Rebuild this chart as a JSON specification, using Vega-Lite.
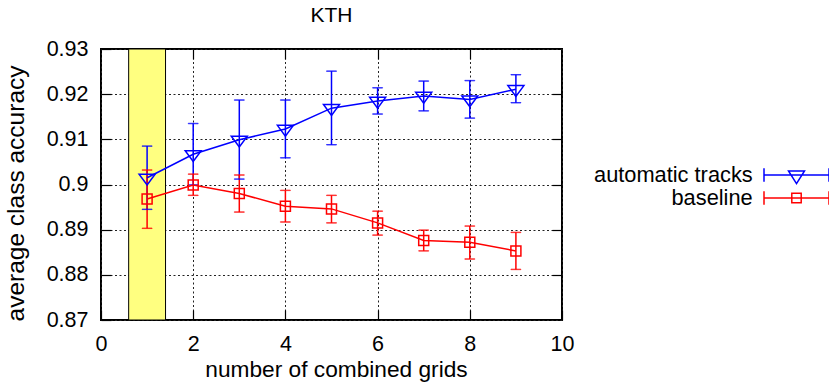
{
  "$schema": "https://vega.github.io/schema/vega-lite/v6.json",
  "width": 461,
  "height": 271,
  "autosize": "none",
  "padding": {"left": 101, "top": 49, "right": 267, "bottom": 63},
  "title": {"text": "KTH", "fontSize": 21, "font": "Liberation Sans", "fontWeight": "normal", "color": "black", "offset": 12},
  "config": {
    "font": "Liberation Sans",
    "view": {"stroke": "black", "strokeWidth": 2},
    "axis": {
      "labelFont": "Liberation Sans", "labelFontSize": 21.5, "labelColor": "black", "labelFlush": false,
      "titleFont": "Liberation Sans", "titleFontSize": 22.7, "titleFontWeight": "normal", "titleColor": "black",
      "tickColor": "black", "tickSize": -10, "tickWidth": 1.2,
      "domain": false,
      "gridColor": "#222222", "gridDash": [2, 2.5], "gridOpacity": 1, "gridWidth": 1,
      "labelPadding": 23
    }
  },
  "data": {"values": [
    {"series": "automatic tracks", "x": 1, "y": 0.9015, "lo": 0.8945, "hi": 0.9085},
    {"series": "automatic tracks", "x": 2, "y": 0.9067, "lo": 0.8999, "hi": 0.9135},
    {"series": "automatic tracks", "x": 3, "y": 0.9099, "lo": 0.9012, "hi": 0.9187},
    {"series": "automatic tracks", "x": 4, "y": 0.9123, "lo": 0.9059, "hi": 0.9187},
    {"series": "automatic tracks", "x": 5, "y": 0.9169, "lo": 0.9088, "hi": 0.9251},
    {"series": "automatic tracks", "x": 6, "y": 0.9185, "lo": 0.9156, "hi": 0.9214},
    {"series": "automatic tracks", "x": 7, "y": 0.9196, "lo": 0.9163, "hi": 0.9229},
    {"series": "automatic tracks", "x": 8, "y": 0.9188, "lo": 0.9147, "hi": 0.9230},
    {"series": "automatic tracks", "x": 9, "y": 0.9211, "lo": 0.9181, "hi": 0.9243},
    {"series": "baseline", "x": 1, "y": 0.8968, "lo": 0.8903, "hi": 0.9032},
    {"series": "baseline", "x": 2, "y": 0.8999, "lo": 0.8976, "hi": 0.9023},
    {"series": "baseline", "x": 3, "y": 0.8980, "lo": 0.8939, "hi": 0.9021},
    {"series": "baseline", "x": 4, "y": 0.8952, "lo": 0.8917, "hi": 0.8987},
    {"series": "baseline", "x": 5, "y": 0.8946, "lo": 0.8915, "hi": 0.8976},
    {"series": "baseline", "x": 6, "y": 0.8915, "lo": 0.8888, "hi": 0.8941},
    {"series": "baseline", "x": 7, "y": 0.8876, "lo": 0.8853, "hi": 0.8899},
    {"series": "baseline", "x": 8, "y": 0.8872, "lo": 0.8835, "hi": 0.8908},
    {"series": "baseline", "x": 9, "y": 0.8853, "lo": 0.8812, "hi": 0.8894}
  ]},
  "resolve": {"axis": {"x": "independent", "y": "independent"}},
  "encoding": {
    "color": {
      "field": "series", "type": "nominal",
      "scale": {"domain": ["automatic tracks", "baseline"], "range": ["#0000ff", "#ff0000"]},
      "legend": {
        "orient": "none", "legendX": 684.5, "legendY": 115, "title": null, "direction": "vertical",
        "padding": 0, "rowPadding": -1.5,
        "symbolSize": 400, "symbolStrokeWidth": 1.5, "symbolOpacity": 1,
        "symbolType": {"expr": "datum.value === 'baseline' ? 'M-3.25,0H3.25M-3.25,-0.67V0.67M3.25,-0.67V0.67M-0.47,-0.47H0.47V0.47H-0.47Z' : 'M-3.25,0H3.25M-3.25,-0.67V0.67M3.25,-0.67V0.67M-0.8,-0.4L0.8,-0.4L0,0.87Z'"},
        "symbolStrokeColor": {"expr": "datum.value === 'baseline' ? '#ff0000' : '#0000ff'"},
        "symbolFillColor": "transparent",
        "labelAlign": "right", "labelOffset": -54.8, "labelFont": "Liberation Sans", "labelFontSize": 21.8, "labelColor": "black", "labelLimit": 0
      }
    }
  },
  "layer": [
    {
      "data": {"values": [{"x": 0.6, "x2": 1.4}]},
      "mark": {"type": "rect", "stroke": "black", "strokeWidth": 1},
      "encoding": {
        "x": {"field": "x", "type": "quantitative", "scale": {"domain": [0, 10], "nice": false},
          "axis": {"values": [0, 2, 4, 6, 8, 10], "title": "number of combined grids", "grid": true, "titlePadding": 4, "titleX": 235}},
        "x2": {"field": "x2"},
        "color": {"value": "#ffff80"}
      }
    },
    {
      "mark": {"type": "rule", "strokeWidth": 1.5},
      "encoding": {
        "x": {"field": "x", "type": "quantitative", "scale": {"domain": [0, 10], "nice": false}, "axis": null},
        "y": {"field": "lo", "type": "quantitative", "scale": {"domain": [0.87, 0.93], "nice": false, "zero": false},
          "axis": {"values": [0.87, 0.88, 0.89, 0.9, 0.91, 0.92, 0.93], "format": ".2~f", "title": "average class accuracy", "grid": true, "titlePadding": 18, "titleFontSize": 24.5, "titleY": 144}},
        "y2": {"field": "hi"}
      }
    },
    {
      "mark": {"type": "tick", "orient": "horizontal", "size": 10, "thickness": 0.5, "filled": false, "strokeWidth": 1},
      "encoding": {
        "x": {"field": "x", "type": "quantitative", "scale": {"domain": [0, 10], "nice": false}, "axis": null},
        "y": {"field": "lo", "type": "quantitative", "scale": {"domain": [0.87, 0.93], "nice": false, "zero": false}, "axis": null}
      }
    },
    {
      "mark": {"type": "tick", "orient": "horizontal", "size": 10, "thickness": 0.5, "filled": false, "strokeWidth": 1},
      "encoding": {
        "x": {"field": "x", "type": "quantitative", "scale": {"domain": [0, 10], "nice": false}, "axis": null},
        "y": {"field": "hi", "type": "quantitative", "scale": {"domain": [0.87, 0.93], "nice": false, "zero": false}, "axis": null}
      }
    },
    {
      "mark": {"type": "line", "strokeWidth": 1.5},
      "encoding": {
        "x": {"field": "x", "type": "quantitative", "scale": {"domain": [0, 10], "nice": false},
          "axis": {"orient": "top", "values": [2, 4, 6, 8], "labels": false, "grid": false, "title": null}},
        "y": {"field": "y", "type": "quantitative", "scale": {"domain": [0.87, 0.93], "nice": false, "zero": false},
          "axis": {"orient": "right", "values": [0.88, 0.89, 0.9, 0.91, 0.92], "labels": false, "grid": false, "title": null}}
      }
    },
    {
      "transform": [{"filter": "datum.series === 'automatic tracks'"}],
      "mark": {"type": "point", "filled": false, "strokeWidth": 1.5, "size": 256, "opacity": 1, "shape": "M-1,-0.45L1,-0.45L0,0.9Z"},
      "encoding": {
        "x": {"field": "x", "type": "quantitative", "scale": {"domain": [0, 10], "nice": false}, "axis": null},
        "y": {"field": "y", "type": "quantitative", "scale": {"domain": [0.87, 0.93], "nice": false, "zero": false}, "axis": null}
      }
    },
    {
      "transform": [{"filter": "datum.series === 'baseline'"}],
      "mark": {"type": "point", "filled": false, "strokeWidth": 1.5, "size": 256, "opacity": 1, "shape": "M-0.625,-0.625L0.625,-0.625L0.625,0.625L-0.625,0.625Z"},
      "encoding": {
        "x": {"field": "x", "type": "quantitative", "scale": {"domain": [0, 10], "nice": false}, "axis": null},
        "y": {"field": "y", "type": "quantitative", "scale": {"domain": [0.87, 0.93], "nice": false, "zero": false}, "axis": null}
      }
    }
  ]
}
